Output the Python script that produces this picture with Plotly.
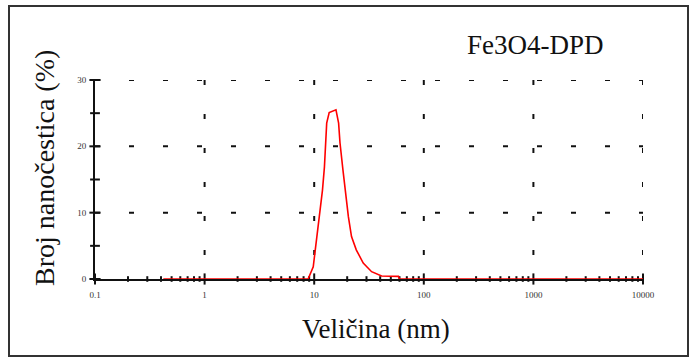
import math
import plotly.graph_objects as go

# Data
size_nm = [0.42, 1, 2, 5, 8.8, 9.8, 10.4, 11.1, 11.9, 12.4, 13.0, 13.7, 14.9, 15.8,
           16.7, 17.2, 18.3, 19.4, 20.5, 21.9, 24.2, 28, 33.4, 41.2, 58.7, 60,
           100, 1000, 10000]
number_pct = [0, 0, 0, 0, 0, 1.85, 5.4, 8.9, 13.4, 16.9, 23.5, 25.1, 25.4, 25.5,
              23.5, 20.5, 16.4, 12.4, 9.4, 6.4, 4.4, 2.4, 1.1, 0.45, 0.4, 0,
              0, 0, 0]
x_tickvals = [0.1, 1, 10, 100, 1000, 10000]
x_ticktext = ["0.1", "1", "10", "100", "1000", "10000"]
x_minorvals = [m * d for d in [0.1, 1, 10, 100, 1000] for m in range(2, 10)]
y_tickvals = [0, 10, 20, 30]
y_minorvals = [5, 15, 25]

INK = "#111111"
x0, x1 = x_tickvals[0], x_tickvals[-1]
y0, y1 = y_tickvals[0], y_tickvals[-1]
GRID_DASH = "5px,29px"

def ticks(xs, ys, symbol, size):
    return go.Scatter(x=xs, y=ys, mode="markers", cliponaxis=False, showlegend=False,
                      hoverinfo="skip",
                      marker=dict(symbol=symbol, size=size, color=INK,
                                  line=dict(width=2, color=INK)))

fig = go.Figure()

# dashed grid drawn as traces (one segment per gridline)
for xv in x_tickvals[1:]:
    fig.add_trace(go.Scatter(x=[xv, xv], y=[y1, y0], mode="lines", showlegend=False,
                             hoverinfo="skip", line=dict(color=INK, width=2, dash=GRID_DASH)))
for yv in y_tickvals[1:]:
    fig.add_trace(go.Scatter(x=[x0, x1], y=[yv, yv], mode="lines", showlegend=False,
                             hoverinfo="skip", line=dict(color=INK, width=2, dash=GRID_DASH)))

# ticks (crossing the axes)
fig.add_trace(ticks(x_minorvals, [y0] * len(x_minorvals), "line-ns-open", 4))
fig.add_trace(ticks(x_tickvals, [y0] * len(x_tickvals), "line-ns-open", 8))
fig.add_trace(ticks([x0] * len(y_minorvals), y_minorvals, "line-ew-open", 7))
fig.add_trace(ticks([x0] * len(y_tickvals), y_tickvals, "line-ew-open", 8))
# data curve
fig.add_trace(go.Scatter(x=size_nm, y=number_pct, mode="lines", cliponaxis=False,
                         line=dict(color="#ff0000", width=1.6), showlegend=False))

serif = "Liberation Serif"
tickfont = dict(family="Liberation Sans Narrow", size=9, color="#333333")

L, R, T, B = 95, 47, 80, 79
PW, PH = 690 - L - R, 358 - T - B
def px_x(p):
    return (p - L) / PW
def px_y(p):
    return (358 - B - p) / PH

fig.update_layout(
    width=690, height=358,
    margin=dict(l=L, r=R, t=T, b=B),
    paper_bgcolor="white", plot_bgcolor="white",
    xaxis=dict(type="log", range=[math.log10(x0), math.log10(x1)],
               tickmode="array", tickvals=x_tickvals, ticktext=x_ticktext,
               showgrid=False, showline=True, linecolor=INK, linewidth=2,
               ticks="", ticklabelstandoff=6, layer="below traces",
               tickfont=tickfont, zeroline=False),
    yaxis=dict(range=[y0, y1], tickmode="array", tickvals=y_tickvals,
               showgrid=False, showline=True, linecolor=INK, linewidth=2,
               ticks="", ticklabelstandoff=5, layer="below traces",
               tickfont=tickfont, zeroline=False),
    annotations=[
        dict(text="Fe3O4-DPD", xref="paper", yref="paper", x=px_x(535), y=px_y(45),
             xanchor="center", yanchor="middle", showarrow=False,
             font=dict(family=serif, size=27, color=INK)),
        dict(text="Veličina (nm)", xref="paper", yref="paper", x=px_x(376), y=px_y(329),
             xanchor="center", yanchor="middle", showarrow=False,
             font=dict(family=serif, size=27, color=INK)),
        dict(text="Broj nanočestica (%)", xref="paper", yref="paper", x=px_x(44), y=px_y(168),
             xanchor="center", yanchor="middle", showarrow=False, textangle=-90,
             font=dict(family=serif, size=28, color=INK)),
    ],
    shapes=[
        dict(type="rect", xref="paper", yref="paper",
             x0=px_x(9), x1=px_x(688), y0=px_y(356), y1=px_y(6),
             line=dict(color="#333333", width=2)),
    ],
)
fig.write_html("out.html")
